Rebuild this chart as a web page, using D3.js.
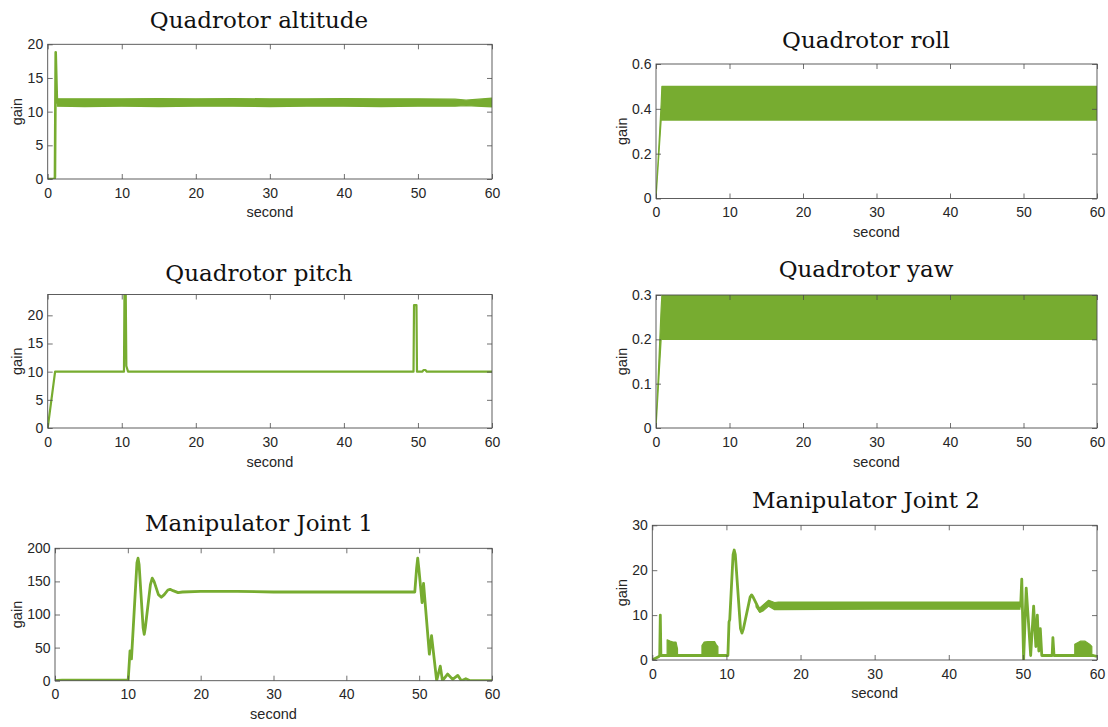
<!DOCTYPE html>
<html>
<head>
<meta charset="utf-8">
<script src="https://cdn.jsdelivr.net/npm/d3@7"></script>
<style>
  html, body { margin: 0; padding: 0; background: #ffffff; }
  svg { display: block; }
</style>
</head>
<body>
<svg id="fig" width="1108" height="727"></svg>
<script>
// ---------------- DATA ----------------
const xTicks = [0, 10, 20, 30, 40, 50, 60];

// Quadrotor altitude
const alt_t = [0, 0.92, 0.98, 1.08, 1.25, 1.35];
const alt_v = [0, 0, 0.3, 18.8, 11.4, 11.3];
const alt_band_t  = [1.3, 5, 10, 15, 20, 25, 30, 35, 40, 45, 50, 55, 56.5, 60];
const alt_band_lo = [10.8, 10.75, 10.8, 10.75, 10.8, 10.8, 10.75, 10.8, 10.8, 10.75, 10.8, 10.8, 10.9, 10.7];
const alt_band_hi = [11.9, 11.9, 11.9, 11.95, 11.9, 11.95, 11.9, 11.9, 11.95, 11.9, 11.9, 11.85, 11.7, 12.0];
const altTicks = [0, 5, 10, 15, 20];

// Quadrotor roll
const roll_t  = [0, 0.7, 0.8, 60];
const roll_lo = [0, 0.35, 0.35, 0.35];
const roll_hi = [0, 0.42, 0.5, 0.5];
const rollTicks = [0, 0.2, 0.4, 0.6];

// Quadrotor pitch
const pitch_t = [0, 1.0, 10.3, 10.38, 10.52, 10.62, 10.85, 49.4, 49.47, 49.8, 49.87, 50.6, 50.75, 51.0, 51.2, 60];
const pitch_v = [0, 10, 10, 27, 27, 11, 10, 10, 21.8, 21.8, 10, 10, 10.3, 10.3, 10, 10];
const pitchTicks = [0, 5, 10, 15, 20];

// Quadrotor yaw
const yaw_t  = [0, 0.7, 0.8, 59.95, 60];
const yaw_lo = [0, 0.2, 0.2, 0.2, 0.245];
const yaw_hi = [0, 0.27, 0.3, 0.3, 0.25];
const yawTicks = [0, 0.1, 0.2, 0.3];

// Manipulator Joint 1
const j1_t = [0, 0.3, 1, 5, 9.9, 10.05, 10.3, 10.5, 11.25, 11.4, 11.55, 12.1, 12.25, 12.4, 13.1, 13.35, 13.6, 14.2, 14.6, 15.0, 15.5, 15.8, 16.2, 16.9, 17.5, 20, 25, 30, 35, 40, 45, 49.4, 49.65, 49.8, 49.95, 50.4, 50.6, 51.4, 51.7, 52.4, 52.9, 53.2, 53.9, 54.6, 55.3, 55.8, 56.4, 57, 60];
const j1_v = [0, 0.5, 1, 1, 1, 1, 45, 33, 178, 185, 175, 80, 70, 80, 145, 155, 150, 130, 126, 130, 137, 138, 136, 133, 134, 135, 135, 134, 134, 134, 134, 134, 170, 185, 170, 118, 147, 40, 68, 0, 22, 0, 10, 2, 8, 0, 3, 0, 0];
const j1Ticks = [0, 50, 100, 150, 200];

// Manipulator Joint 2
const j2_t = [0, 0.9, 1.0, 1.08, 1.16, 1.25, 10.2, 10.35, 10.45, 10.9, 11.05, 11.2, 11.9, 12.1, 12.3, 13.2, 13.4, 13.6, 14.5, 15.7, 16.5, 17.2, 49.7, 49.85, 50.1, 50.45, 51.05, 51.45, 51.75, 51.95, 52.15, 52.35, 52.55, 53.0, 53.95, 54.05, 54.2, 59.5, 60];
const j2_v = [0, 0.8, 1.0, 10, 1.0, 1.0, 1.0, 8.5, 9, 23.5, 24.5, 23.5, 7, 6, 7, 14, 14.5, 14, 11, 13, 12, 12, 12, 18, 0, 16, 1, 12, 3, 10, 2, 7, 1, 1, 1, 5, 1, 1, 0.8];
const j2_band_t  = [2.0, 2.4, 2.8, 3.2, 3.4, null, 6.7, 7.0, 7.5, 8.4, 8.6, 8.85, null, 14.0, 14.5, 15.0, 15.7, 16.5, 17.0, 30, 49.6, null, 57.0, 57.8, 58.4, 59.0, 59.3];
const j2_band_lo = [1, 1, 1, 1, 1, null, 1, 1, 1, 1, 1, 1, null, 11.8, 10.6, 11.0, 12.0, 11.2, 11.2, 11.3, 11.3, null, 1, 1, 1, 1, 1];
const j2_band_hi = [4.5, 4.2, 4.0, 4.0, 2.5, null, 3.2, 4.0, 4.1, 4.1, 3.5, 3.0, null, 12.2, 11.6, 12.3, 13.3, 12.8, 12.9, 12.9, 12.9, null, 3.5, 4.2, 4.2, 3.5, 3.0];
const j2Ticks = [0, 10, 20, 30];

// ---------------- LAYOUT / STYLE ----------------
const GREEN = "#77ac30";
const AXIS = "#4d4d4d";
const TEXT = "#262626";
const sansFont = "'Liberation Sans', Arial, Helvetica, sans-serif";
const serifFont = "'DejaVu Serif', serif";

const panels = [
  { title: "Quadrotor altitude", box: [47.7, 44.3, 492, 179], yDomain: [0, 20], yTicks: altTicks,
    titleX: 259, titleY: 28, gainX: 17, secondY: 217,
    lines: [{ t: alt_t, v: alt_v, w: 2.6 }], bands: [{ t: alt_band_t, lo: alt_band_lo, hi: alt_band_hi }] },
  { title: "Quadrotor roll", box: [656, 64, 1097, 198.5], yDomain: [0, 0.6], yTicks: rollTicks,
    titleX: 866, titleY: 48, gainX: 622, secondY: 237,
    lines: [], bands: [{ t: roll_t, lo: roll_lo, hi: roll_hi }] },
  { title: "Quadrotor pitch", box: [47.7, 294.5, 492, 428], yDomain: [0, 23.7], yTicks: pitchTicks,
    titleX: 259, titleY: 281, gainX: 17, secondY: 467,
    lines: [{ t: pitch_t, v: pitch_v, w: 2.2 }], bands: [] },
  { title: "Quadrotor yaw", box: [656, 295, 1097, 428], yDomain: [0, 0.3], yTicks: yawTicks,
    titleX: 866, titleY: 277, gainX: 622, secondY: 467,
    lines: [], bands: [{ t: yaw_t, lo: yaw_lo, hi: yaw_hi }] },
  { title: "Manipulator Joint 1", box: [55, 548.3, 492, 680.7], yDomain: [0, 200], yTicks: j1Ticks,
    titleX: 259, titleY: 531, gainX: 17, secondY: 719,
    lines: [{ t: j1_t, v: j1_v, w: 2.8 }], bands: [] },
  { title: "Manipulator Joint 2", box: [652.3, 525.3, 1097, 660], yDomain: [0, 30], yTicks: j2Ticks,
    titleX: 866, titleY: 508, gainX: 622, secondY: 698,
    lines: [{ t: j2_t, v: j2_v, w: 2.8 }], bands: [{ t: j2_band_t, lo: j2_band_lo, hi: j2_band_hi }] }
];

const svg = d3.select("#fig");

panels.forEach((p, i) => {
  const [x0, y0, x1, y1] = p.box;
  const x = d3.scaleLinear().domain([0, 60]).range([x0, x1]);
  const y = d3.scaleLinear().domain(p.yDomain).range([y1, y0]);
  const g = svg.append("g");

  const clipId = "clip" + i;
  svg.append("defs").append("clipPath").attr("id", clipId)
    .append("rect").attr("x", x0).attr("y", y0).attr("width", x1 - x0).attr("height", y1 - y0);

  const plot = g.append("g").attr("clip-path", `url(#${clipId})`);

  // bands (oscillation envelopes)
  p.bands.forEach(b => {
    const pts = b.t.map((t, k) => ({ t, lo: b.lo[k], hi: b.hi[k] }));
    const area = d3.area()
      .defined(d => d.t !== null)
      .x(d => x(d.t)).y0(d => y(d.lo)).y1(d => y(d.hi));
    plot.append("path").attr("d", area(pts))
      .attr("fill", GREEN).attr("stroke", GREEN).attr("stroke-width", 1.2)
      .attr("stroke-linejoin", "round");
  });

  // lines
  p.lines.forEach(l => {
    const pts = l.t.map((t, k) => ({ t, v: l.v[k] }));
    const line = d3.line().x(d => x(d.t)).y(d => y(d.v));
    plot.append("path").attr("d", line(pts))
      .attr("fill", "none").attr("stroke", GREEN).attr("stroke-width", l.w)
      .attr("stroke-linejoin", "round").attr("stroke-linecap", "butt");
  });

  // axes (MATLAB-style box with inward ticks)
  const fmt = d => String(d);
  const bottom = g.append("g").attr("transform", `translate(0,${y1})`)
    .call(d3.axisBottom(x).tickValues(xTicks).tickSize(-5).tickFormat(fmt));
  bottom.selectAll("text").attr("y", 18.5).attr("dy", null);
  const top = g.append("g").attr("transform", `translate(0,${y0})`)
    .call(d3.axisTop(x).tickValues(xTicks).tickSize(-5).tickFormat(""));
  const left = g.append("g").attr("transform", `translate(${x0},0)`)
    .call(d3.axisLeft(y).tickValues(p.yTicks).tickSize(-5).tickPadding(4.5).tickFormat(fmt));
  const right = g.append("g").attr("transform", `translate(${x1},0)`)
    .call(d3.axisRight(y).tickValues(p.yTicks).tickSize(-5).tickFormat(""));

  [bottom, top, left, right].forEach(a => {
    a.select(".domain").remove();
    a.selectAll("line").attr("stroke", AXIS).attr("stroke-width", 0.8);
    a.selectAll("text").attr("fill", TEXT).style("font-family", sansFont).style("font-size", "14px");
  });

  g.append("rect").attr("x", x0).attr("y", y0).attr("width", x1 - x0).attr("height", y1 - y0)
    .attr("fill", "none").attr("stroke", AXIS).attr("stroke-width", 0.9);

  // labels
  g.append("text").attr("x", (x0 + x1) / 2).attr("y", p.secondY)
    .attr("text-anchor", "middle").attr("fill", TEXT)
    .style("font-family", sansFont).style("font-size", "14.5px").text("second");
  g.append("text")
    .attr("transform", `translate(${p.gainX + 4.5},${(y0 + y1) / 2}) rotate(-90)`)
    .attr("text-anchor", "middle").attr("fill", TEXT)
    .style("font-family", sansFont).style("font-size", "14.5px").text("gain");
  g.append("text").attr("x", p.titleX).attr("y", p.titleY)
    .attr("text-anchor", "middle").attr("fill", "#111")
    .style("font-family", serifFont).style("font-size", "23px").text(p.title);
});
</script>
</body>
</html>
